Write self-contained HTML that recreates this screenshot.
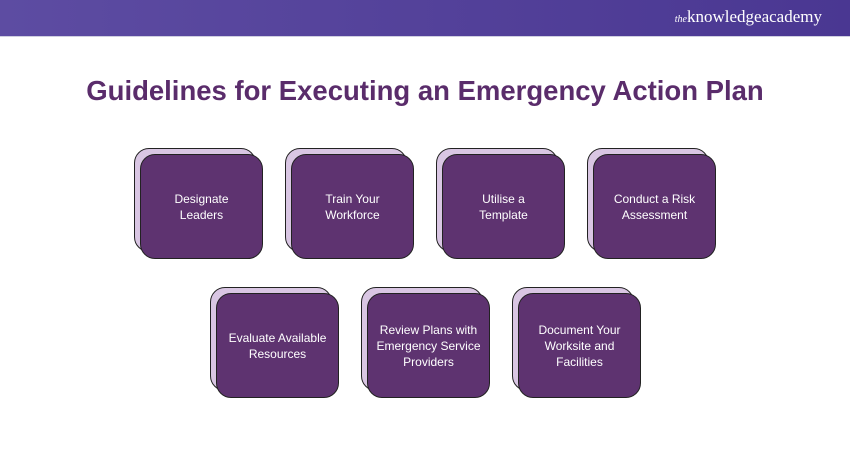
<!DOCTYPE html>
<html><head><style>
body{margin:0;width:850px;height:450px;background:#fff;position:relative;overflow:hidden;font-family:"Liberation Sans",sans-serif}
.hdr{position:absolute;left:0;top:0;width:850px;height:36px;background:linear-gradient(90deg,#5d4ca2,#4a3792);border-bottom:1px solid #cfcfe0}
.logo{position:absolute;right:28px;top:7px;color:#fff;font-family:"Liberation Serif",serif;font-size:17px}
.logo i{font-size:10px}
h1{position:absolute;left:0;width:850px;top:75px;margin:0;text-align:center;font-size:27.5px;font-weight:bold;color:#5a2c6b}
.b{position:absolute;width:122px;height:104px;border:1.5px solid #222;border-radius:15px;background:#d9c6e3;box-sizing:border-box}
.f{position:absolute;width:123px;height:105px;border:1.5px solid #222;border-radius:15px;background:#5e3370;box-sizing:border-box;color:#fff;font-size:12px;line-height:16px;display:flex;align-items:center;justify-content:center;text-align:center;padding:0 6px}
</style></head><body>
<div class="hdr"><div class="logo"><i>the</i>knowledgeacademy</div></div>
<h1>Guidelines for Executing an Emergency Action Plan</h1>

<div class="b" style="left:134px;top:148px"></div><div class="f" style="left:140px;top:154px">Designate<br>Leaders</div>
<div class="b" style="left:285px;top:148px"></div><div class="f" style="left:291px;top:154px">Train Your<br>Workforce</div>
<div class="b" style="left:436px;top:148px"></div><div class="f" style="left:442px;top:154px">Utilise a<br>Template</div>
<div class="b" style="left:587px;top:148px"></div><div class="f" style="left:593px;top:154px">Conduct a Risk<br>Assessment</div>

<div class="b" style="left:210px;top:287px"></div><div class="f" style="left:216px;top:293px">Evaluate Available<br>Resources</div>
<div class="b" style="left:361px;top:287px"></div><div class="f" style="left:367px;top:293px">Review Plans with<br>Emergency Service<br>Providers</div>
<div class="b" style="left:512px;top:287px"></div><div class="f" style="left:518px;top:293px">Document Your<br>Worksite and<br>Facilities</div>
</body></html>
